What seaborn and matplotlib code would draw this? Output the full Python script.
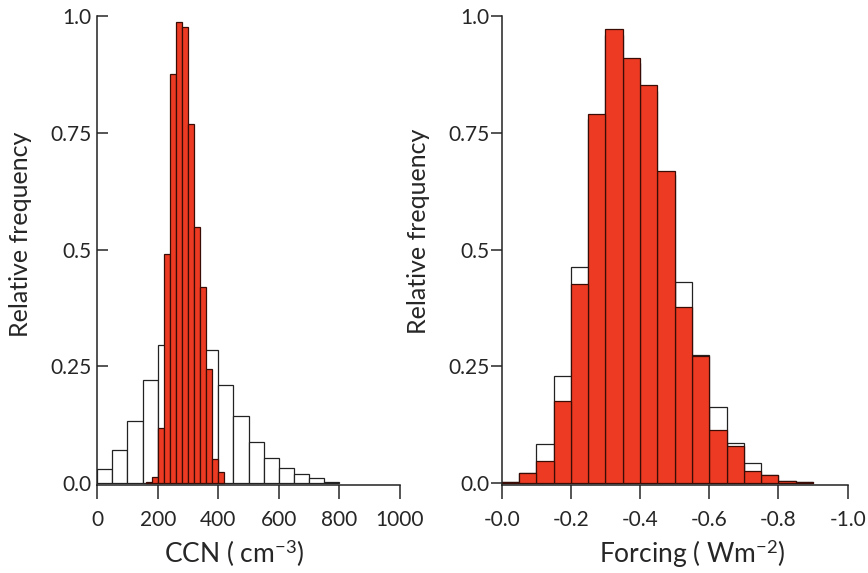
import numpy as np
import pandas as pd
import seaborn as sns
import matplotlib.pyplot as plt

# left panel: CCN, wide distribution (white) and constrained one (red)
ccn_white_edges = list(range(0, 801, 50))
ccn_white_freq = [0.030, 0.070, 0.133, 0.221, 0.296, 0.310, 0.300, 0.284, 0.210,
                  0.143, 0.089, 0.053, 0.032, 0.020, 0.011, 0.003]
ccn_red_edges = list(range(160, 421, 20))
ccn_red_freq = [0.002, 0.014, 0.119, 0.491, 0.876, 0.987, 0.976, 0.768, 0.548,
                0.419, 0.244, 0.052, 0.023]

# right panel: forcing (W m-2), bins of 0.05 going from 0 towards -0.9
frc_edges = [round(-0.90 + 0.05 * i, 2) for i in range(19)]
frc_white_freq = [0.003, 0.021, 0.083, 0.230, 0.462, 0.780, 0.960, 0.900, 0.840,
                  0.660, 0.430, 0.275, 0.162, 0.086, 0.043, 0.018, 0.004, 0.002]
frc_red_freq = [0.003, 0.021, 0.048, 0.175, 0.426, 0.790, 0.972, 0.911, 0.852,
                0.668, 0.378, 0.272, 0.113, 0.080, 0.025, 0.018, 0.004, 0.002]

y_ticks = [0.0, 0.25, 0.5, 0.75, 1.0]
y_labels = ["0.0", "0.25", "0.5", "0.75", "1.0"]
ccn_ticks = [0, 200, 400, 600, 800, 1000]
frc_ticks = [0.0, -0.2, -0.4, -0.6, -0.8, -1.0]
frc_labels = ["-0.0", "-0.2", "-0.4", "-0.6", "-0.8", "-1.0"]

RED = "#EC3B22"

sns.set_style("ticks")
plt.rcParams["font.family"] = ["Lato", "DejaVu Sans"]
plt.rcParams["mathtext.fontset"] = "custom"
plt.rcParams["mathtext.rm"] = "Lato"
plt.rcParams["mathtext.it"] = "Lato:italic"
plt.rcParams["axes.linewidth"] = 1.1


def hist_df(edges, freq):
    e = np.asarray(edges, dtype=float)
    return pd.DataFrame({"x": (e[:-1] + e[1:]) / 2, "w": freq})


fig = plt.figure(figsize=(8.68, 5.73), dpi=100)
ax1 = fig.add_axes([0.112, 0.1536, 0.3487, 0.8185])
ax2 = fig.add_axes([0.578, 0.1536, 0.3986, 0.8185])

# CCN
sns.histplot(data=hist_df(ccn_white_edges, ccn_white_freq), x="x", weights="w",
             bins=ccn_white_edges, color="white", edgecolor="#222222",
             linewidth=0.9, alpha=1, ax=ax1)
sns.histplot(data=hist_df(ccn_red_edges, ccn_red_freq), x="x", weights="w",
             bins=ccn_red_edges, color=RED, edgecolor="#3a0c06",
             linewidth=0.9, alpha=1, ax=ax1)

# forcing (lists stored from 0 downwards, edges increase, so reverse them)
sns.histplot(data=hist_df(frc_edges, frc_white_freq[::-1]), x="x", weights="w",
             bins=frc_edges, color="white", edgecolor="#222222",
             linewidth=0.9, alpha=1, ax=ax2)
sns.histplot(data=hist_df(frc_edges, frc_red_freq[::-1]), x="x", weights="w",
             bins=frc_edges, color=RED, edgecolor="#3a0c06",
             linewidth=0.9, alpha=1, ax=ax2)

ax1.set_xlim(0, 1000)
ax1.set_ylim(-0.004, 1.0)
ax1.set_xticks(ccn_ticks)
ax1.set_yticks(y_ticks, labels=y_labels)
ax1.tick_params(axis="y", direction="in", length=8, width=1.1, pad=4, labelsize=15)
ax1.tick_params(axis="x", direction="out", length=10, width=1.1, pad=8, labelsize=15)
ax1.set_xlabel("CCN ( cm$^{-3}$)", fontsize=19, labelpad=6, x=0.452)
ax1.set_ylabel("Relative frequency", fontsize=18, labelpad=13, y=0.535)

ax2.set_xlim(0, -1.0)
ax2.set_ylim(-0.004, 1.0)
ax2.set_xticks(frc_ticks, labels=frc_labels)
ax2.set_yticks(y_ticks, labels=y_labels)
ax2.tick_params(axis="y", direction="out", length=8, width=1.1, pad=1, labelsize=15)
ax2.tick_params(axis="x", direction="out", length=10, width=1.1, pad=8, labelsize=15)
ax2.set_xlabel("Forcing ( Wm$^{-2}$)", fontsize=19, labelpad=6, x=0.55)
ax2.set_ylabel("Relative frequency", fontsize=18, labelpad=13, y=0.54)

for ax in (ax1, ax2):
    sns.despine(ax=ax)
    ax.spines["left"].set_color("#222222")
    ax.spines["bottom"].set_color("#222222")

fig.savefig("out.png", dpi=100)
